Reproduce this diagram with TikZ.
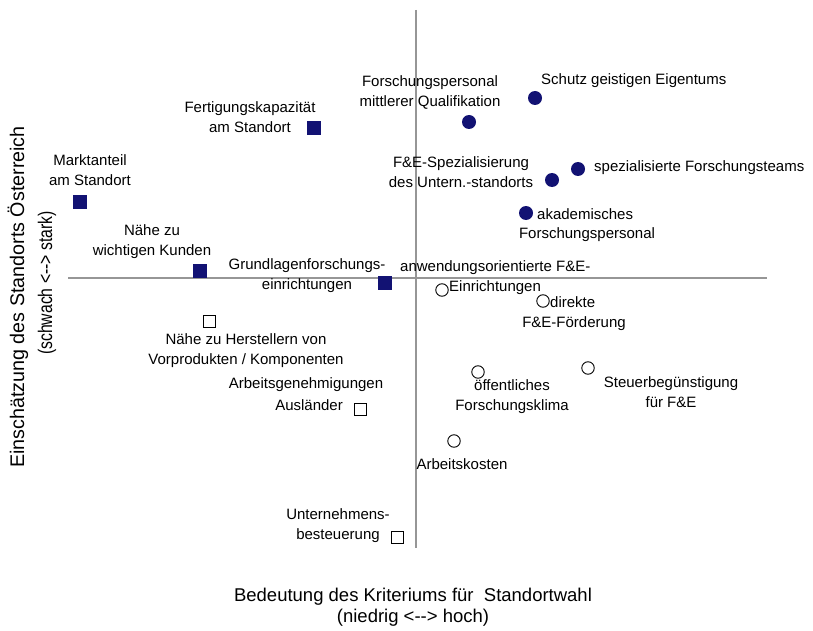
\documentclass[tikz,border=0pt]{standalone}
\usepackage{fontspec}
\setmainfont{Liberation Sans}
\definecolor{navy}{RGB}{18,18,115}
\definecolor{axisgray}{RGB}{150,150,150}
\newcommand{\dd}{\mbox{-}\mbox{-}}
\begin{document}
\begin{tikzpicture}[x=1pt,y=-1pt,
  lbl/.style={font=\fontsize{15}{20}\selectfont, inner sep=0pt, align=center},
  axlbl/.style={font=\fontsize{18.5}{21}\selectfont, inner sep=0pt, align=center},
  ylbl/.style={font=\fontsize{19.7}{21}\selectfont, inner sep=0pt, rotate=90},
  fsq/.style={rectangle, fill=navy, minimum size=14pt, inner sep=0pt},
  fci/.style={circle, fill=navy, minimum size=14pt, inner sep=0pt},
  osq/.style={rectangle, draw=black, line width=1pt, minimum size=12pt, inner sep=0pt, fill=white},
  oci/.style={circle, draw=black, line width=0.9pt, minimum size=12.5pt, inner sep=0pt, fill=white},
  axisline/.style={draw=axisgray, line width=1.1pt}]
\useasboundingbox (0,0) rectangle (813,631);
\fill[white] (0,0) rectangle (813,631);
% axes
\coordinate (xl) at (68,278);
\coordinate (xr) at (767,278);
\coordinate (yt) at (416,10);
\coordinate (yb) at (416,548);
\draw[axisline] (xl) -- (xr);
\draw[axisline] (yt) -- (yb);
% axis labels
\node[axlbl] (xlab) at (413,607) {Bedeutung des Kriteriums für\ \ Standortwahl\\(niedrig <\dd> hoch)};
\node[ylbl] (ylab1) at (18,297) {Einschätzung des Standorts Österreich};
\node[ylbl] (ylab2) at (47,283) {\scalebox{0.8}[1]{(schwach <\dd> stark)}};
% filled squares
\node[fsq] (m1) at (314,128) {};
\node[lbl] (l1) at (250,117) {Fertigungskapazität\\am Standort};
\node[fsq] (m2) at (80,202) {};
\node[lbl] (l2) at (90,170) {Marktanteil\\am Standort};
\node[fsq] (m3) at (200,271) {};
\node[lbl] (l3) at (152,242) {Nähe zu\\wichtigen Kunden};
\node[fsq] (m4) at (385,283) {};
\node[lbl] (l4) at (307,276) {Grundlagenforschungs-\\einrichtungen};
% filled circles
\node[fci] (m5) at (469,122) {};
\node[lbl] (l5) at (430,92) {Forschungspersonal\\mittlerer Qualifikation};
\node[fci] (m6) at (535,98) {};
\node[lbl, anchor=west] (l6) at (541,81) {Schutz geistigen Eigentums};
\node[fci] (m7) at (552,180) {};
\node[lbl] (l7) at (461,172) {F\&E-Spezialisierung\\des Untern.-standorts};
\node[fci] (m8) at (578,169) {};
\node[lbl, anchor=west] (l8) at (594,168) {spezialisierte Forschungsteams};
\node[fci] (m9) at (526,213) {};
\node[lbl, anchor=west] (l9a) at (537,214) {akademisches};
\node[lbl] (l9b) at (587,235) {Forschungspersonal};
% open circles
\node[oci] (m10) at (442,290) {};
\node[lbl, anchor=west] (l10a) at (400,268) {anwendungsorientierte F\&E-};
\node[lbl, anchor=west] (l10b) at (449,288) {Einrichtungen};
\node[oci] (m11) at (543,301) {};
\node[lbl, anchor=west] (l11a) at (550,302) {direkte};
\node[lbl] (l11b) at (574,324) {F\&E-Förderung};
\node[oci] (m12) at (478,372) {};
\node[lbl] (l12) at (512,397) {öffentliches\\Forschungsklima};
\node[oci] (m13) at (588,368) {};
\node[lbl] (l13) at (671,392) {Steuerbegünstigung\\für F\&E};
\node[oci] (m14) at (454,441) {};
\node[lbl] (l14) at (462,464) {Arbeitskosten};
% open squares
\node[osq] (m15) at (209,321) {};
\node[lbl] (l15) at (246,351) {Nähe zu Herstellern von\\Vorprodukten / Komponenten};
\node[osq] (m16) at (360,409) {};
\node[lbl] (l16a) at (306,385) {Arbeitsgenehmigungen};
\node[lbl, anchor=east] (l16b) at (343,405) {Ausländer};
\node[osq] (m17) at (397,537) {};
\node[lbl] (l17) at (338,526) {Unternehmens-\\besteuerung};
\end{tikzpicture}
\end{document}
